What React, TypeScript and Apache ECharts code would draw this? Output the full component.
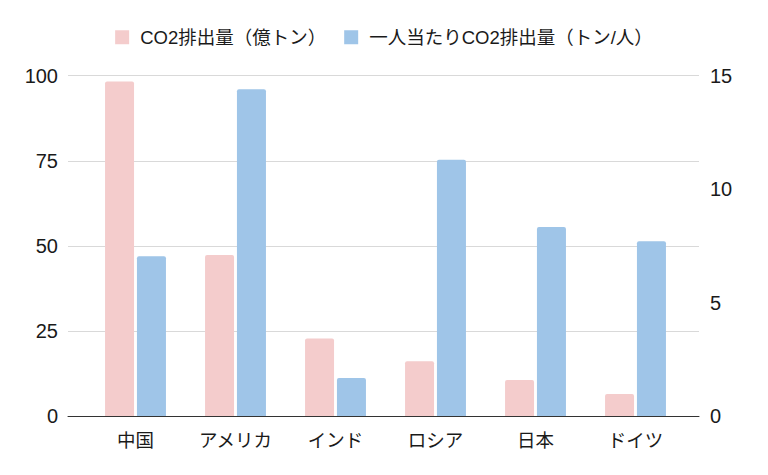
import React, { useEffect, useRef } from "react";
import * as echarts from "echarts";

const categories = ["中国", "アメリカ", "インド", "ロシア", "日本", "ドイツ"];
const emissions = [98.3, 47.3, 22.8, 16.1, 10.6, 6.5];
const perCapita = [7.04, 14.4, 1.68, 11.3, 8.33, 7.7];
const seriesNames = ["CO2排出量（億トン）", "一人当たりCO2排出量（トン/人）"];
const leftTicks = [0, 25, 50, 75, 100];
const rightTicks = [0, 5, 10, 15];

const FONT = "'Liberation Sans', 'Noto Sans CJK JP', sans-serif";

export default function App() {
  const ref = useRef<HTMLDivElement>(null);
  useEffect(() => {
    if (!ref.current) return;
    const chart = echarts.init(ref.current, undefined, { renderer: "svg" });
    const idx = categories.map((_, i) => i);
    chart.setOption({
      animation: false,
      textStyle: { fontFamily: FONT },
      legend: {
        top: 23,
        left: "center",
        itemWidth: 14,
        itemHeight: 14,
        itemGap: 18,
        icon: "rect",
        textStyle: { fontSize: 18.5, color: "#1a1a1a", fontFamily: FONT, padding: [0, 0, 0, 6] },
        data: seriesNames,
      },
      grid: { left: 68, right: 69, top: 75.7, bottom: 59, containLabel: false },
      xAxis: {
        type: "value",
        min: -0.675,
        max: 5.635,
        splitLine: { show: false },
        axisLine: { show: true, onZero: false, lineStyle: { color: "#333", width: 1 } },
        axisTick: { show: false },
        axisLabel: {
          customValues: idx,
          formatter: (v: number) => categories[Math.round(v)] ?? "",
          fontSize: 18.5,
          color: "#1a1a1a",
          margin: 15,
          fontFamily: FONT,
        },
      },
      yAxis: [
        {
          type: "value",
          min: leftTicks[0],
          max: leftTicks[leftTicks.length - 1],
          interval: 25,
          axisLine: { show: false },
          axisTick: { show: false },
          splitLine: { lineStyle: { color: "#d9d9d9", width: 1 } },
          axisLabel: { fontSize: 20, color: "#1a1a1a", margin: 10, fontFamily: FONT },
        },
        {
          type: "value",
          min: rightTicks[0],
          max: rightTicks[rightTicks.length - 1],
          interval: 5,
          axisLine: { show: false },
          axisTick: { show: false },
          splitLine: { show: false },
          axisLabel: { fontSize: 20, color: "#1a1a1a", margin: 11, fontFamily: FONT },
        },
      ],
      series: [
        {
          name: seriesNames[0],
          type: "bar",
          yAxisIndex: 0,
          barWidth: 29,
          barGap: "10%",
          itemStyle: { color: "#f4cccc", borderRadius: [2, 2, 0, 0] },
          data: emissions.map((v, i) => [i, v]),
        },
        {
          name: seriesNames[1],
          type: "bar",
          yAxisIndex: 1,
          barWidth: 29,
          barGap: "10%",
          itemStyle: { color: "#9fc5e8", borderRadius: [2, 2, 0, 0] },
          data: perCapita.map((v, i) => [i, v]),
        },
      ],
    });
    return () => chart.dispose();
  }, []);
  return (
    <div
      ref={ref}
      style={{ position: "absolute", left: 0, top: 0, width: 768, height: 475, background: "#fff" }}
    />
  );
}
